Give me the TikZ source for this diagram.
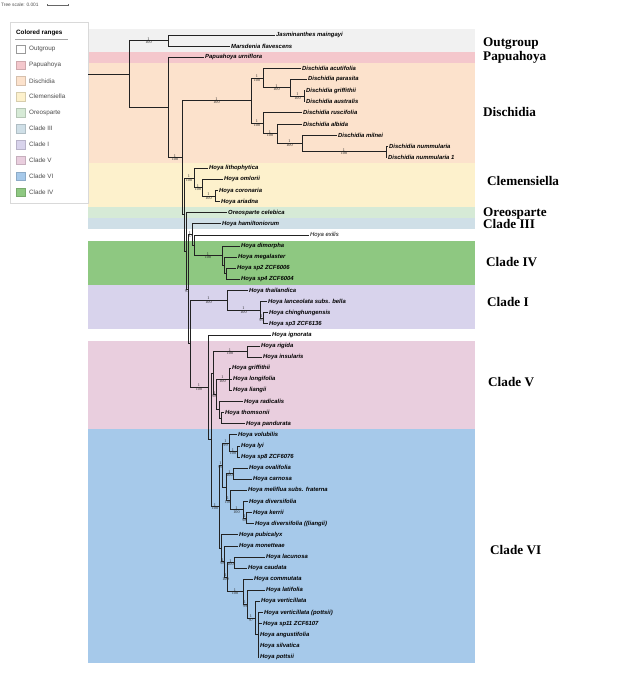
\documentclass[tikz,border=0pt]{standalone}
\usepackage{fontspec}
\setmainfont{Liberation Serif}
\newfontfamily\arialf{Liberation Sans}
\definecolor{cOut}{HTML}{F1F1F1}
\definecolor{cPap}{HTML}{F4C7CC}
\definecolor{cDis}{HTML}{FCE2CC}
\definecolor{cCle}{HTML}{FDF1CC}
\definecolor{cOre}{HTML}{D6EAD6}
\definecolor{cCiii}{HTML}{CFDFE7}
\definecolor{cCiv}{HTML}{8EC881}
\definecolor{cCi}{HTML}{D8D3EC}
\definecolor{cCv}{HTML}{E9CEDE}
\definecolor{cCvi}{HTML}{A6C9EA}
\definecolor{brc}{HTML}{222222}
\tikzset{
  br/.style={draw=brc, line width=0.8pt},
  leaf/.style={anchor=west, inner sep=1pt, font=\arialf\bfseries\itshape\fontsize{5.9}{6}\selectfont},
  leafplain/.style={anchor=west, inner sep=1pt, font=\arialf\itshape\fontsize{5.9}{6}\selectfont},
  bsl/.style={inner sep=0.2pt, font=\fontsize{4.2}{4.5}\selectfont, text=black!85},
  cladelab/.style={anchor=base west, inner sep=0pt, font=\bfseries\fontsize{13.2}{14}\selectfont},
  legtext/.style={anchor=west, inner sep=0pt, text=black!70, font=\arialf\fontsize{6.3}{7}\selectfont},
  swatch/.style={minimum size=8.5pt, inner sep=0pt, fill=#1, draw=#1!85!black, line width=0.3pt},
}
\newcommand\lf[4]{\coordinate (#1) at (#2,#3); \node[leaf] (#1t) at (#1) {#4};}
\newcommand\bsv[4]{\node[bsl,anchor=south] (#1u) at (#2,#3) {1}; \node[bsl,anchor=north] (#1d) at (#2,#3) {#4};}
\begin{document}
\begin{tikzpicture}[x=1pt,y=-1pt]
\fill[white] (0,0) rectangle (623,675);
\useasboundingbox (0,0) rectangle (623,675);
% colored ranges
\fill[cOut] (88,28.5) rectangle (475,51.7);
\fill[cPap] (88,51.7) rectangle (475,62.8);
\fill[cDis] (88,62.8) rectangle (475,162.8);
\fill[cCle] (88,162.8) rectangle (475,207.2);
\fill[cOre] (88,207.2) rectangle (475,218.3);
\fill[cCiii] (88,218.3) rectangle (475,229.4);
\fill[cCiv] (88,240.5) rectangle (475,284.9);
\fill[cCi] (88,284.9) rectangle (475,329.4);
\fill[cCv] (88,340.5) rectangle (475,429.3);
\fill[cCvi] (88,429.3) rectangle (475,662.5);
% tree scale
\node[anchor=west, inner sep=0pt, text=black!70, font=\arialf\fontsize{4.8}{5}\selectfont] (scl) at (1,5) {Tree scale: 0.001};
\coordinate (sa) at (47,5); \coordinate (sb) at (68,5);
\draw[black!60, line width=0.4pt] (sa) -- (sb);
\draw[black!60, line width=0.4pt] ([yshift=-1.2pt]sa) -- ([yshift=1.2pt]sa) ([yshift=-1.2pt]sb) -- ([yshift=1.2pt]sb);
% legend
\draw[black!15, line width=0.4pt] (10,22) rectangle (88,203);
\node[anchor=west, inner sep=0pt, font=\arialf\bfseries\fontsize{6.3}{7}\selectfont] (legh) at (16,33) {Colored ranges};
\draw[black!35, line width=0.4pt] (15,39.5) -- (68,39.5);
\foreach \c/\t [count=\k from 0] in {white/Outgroup, cPap/Papuahoya, cDis/Dischidia, cCle/Clemensiella, cOre/Oreosparte, cCiii/Clade III, cCi/Clade I, cCv/Clade V, cCvi/Clade VI, cCiv/Clade IV}{
  \node[swatch=\c] (sw\k) at (20.5,{49+\k*15.9}) {};
  \node[legtext] (lt\k) at (29,{49+\k*15.9}) {\t};
}
\draw[black!40, line width=0.3pt] (16.25,44.75) rectangle (24.75,53.25);
% clade labels
\node[cladelab] (kOut) at (483,46.8) {Outgroup};
\node[cladelab] (kPap) at (483,60.6) {Papuahoya};
\node[cladelab] (kDis) at (483,116) {Dischidia};
\node[cladelab] (kCle) at (487,185.7) {Clemensiella};
\node[cladelab] (kOre) at (483,216.2) {Oreosparte};
\node[cladelab] (kCiii) at (483,228.8) {Clade III};
\node[cladelab] (kCiv) at (486,266.7) {Clade IV};
\node[cladelab] (kCi) at (487,306.7) {Clade I};
\node[cladelab] (kCv) at (488,386.7) {Clade V};
\node[cladelab] (kCvi) at (490,554) {Clade VI};
% leaves
\lf{L1}{275}{35.0}{Jasminanthes maingayi}
\lf{L2}{230}{46.1}{Marsdenia flavescens}
\lf{L3}{204}{57.2}{Papuahoya urniflora}
\lf{L4}{301}{68.3}{Dischidia acutifolia}
\lf{L5}{307}{79.4}{Dischidia parasita}
\lf{L6}{305}{90.5}{Dischidia griffithii}
\lf{L7}{305}{101.6}{Dischidia australis}
\lf{L8}{302}{112.7}{Dischidia ruscifolia}
\lf{L9}{302}{123.9}{Dischidia albida}
\lf{L10}{337}{135.0}{Dischidia milnei}
\lf{L11}{388}{146.1}{Dischidia nummularia}
\lf{L12}{387}{157.2}{Dischidia nummularia 1}
\lf{L13}{208}{168.3}{Hoya lithophytica}
\lf{L14}{223}{179.4}{Hoya omlorii}
\lf{L15}{218}{190.5}{Hoya coronaria}
\lf{L16}{220}{201.6}{Hoya ariadna}
\lf{L17}{227}{212.7}{Oreosparte celebica}
\lf{L18}{221}{223.8}{Hoya hamiltoniorum}
\coordinate (L19) at (309,234.9); \node[leafplain] (L19t) at (L19) {Hoya exilis};
\lf{L20}{240}{246.0}{Hoya dimorpha}
\lf{L21}{237}{257.1}{Hoya megalaster}
\lf{L22}{236}{268.2}{Hoya sp2 ZCF6006}
\lf{L23}{240}{279.4}{Hoya sp4 ZCF6004}
\lf{L24}{248}{290.5}{Hoya thailandica}
\lf{L25}{267}{301.6}{Hoya lanceolata subs. bella}
\lf{L26}{268}{312.7}{Hoya chinghungensis}
\lf{L27}{268}{323.8}{Hoya sp3 ZCF6136}
\lf{L28}{271}{334.9}{Hoya ignorata}
\lf{L29}{260}{346.0}{Hoya rigida}
\lf{L30}{262}{357.1}{Hoya insularis}
\lf{L31}{231}{368.2}{Hoya griffithii}
\lf{L32}{232}{379.3}{Hoya longifolia}
\lf{L33}{232}{390.4}{Hoya liangii}
\lf{L34}{243}{401.5}{Hoya radicalis}
\lf{L35}{224}{412.6}{Hoya thomsonii}
\lf{L36}{245}{423.7}{Hoya pandurata}
\lf{L37}{237}{434.8}{Hoya volubilis}
\lf{L38}{240}{445.9}{Hoya lyi}
\lf{L39}{240}{457.0}{Hoya sp8 ZCF6076}
\lf{L40}{248}{468.2}{Hoya ovalifolia}
\lf{L41}{252}{479.3}{Hoya carnosa}
\lf{L42}{247}{490.4}{Hoya meliflua subs. fraterna}
\lf{L43}{248}{501.5}{Hoya diversifolia}
\lf{L44}{252}{512.6}{Hoya kerrii}
\lf{L45}{254}{523.7}{Hoya diversifolia ((liangii)}
\lf{L46}{238}{534.8}{Hoya pubicalyx}
\lf{L47}{238}{545.9}{Hoya monetteae}
\lf{L48}{265}{557.0}{Hoya lacunosa}
\lf{L49}{247}{568.1}{Hoya caudata}
\lf{L50}{253}{579.2}{Hoya commutata}
\lf{L51}{265}{590.3}{Hoya latifolia}
\lf{L52}{260}{601.4}{Hoya verticillata}
\lf{L53}{263}{612.5}{Hoya verticillata (pottsii)}
\lf{L54}{262}{623.6}{Hoya sp11 ZCF6107}
\lf{L55}{259}{634.7}{Hoya angustifolia}
\lf{L56}{259}{645.8}{Hoya silvatica}
\lf{L57}{259}{656.9}{Hoya pottsii}
% internal nodes
\coordinate (rootin) at (88,73.97);
\coordinate (root) at (129,73.97);
\coordinate (Out) at (168,40.55);
\coordinate (PDH) at (168,107.4);
\coordinate (DH) at (182,157.55);
\coordinate (D) at (251,100.6);
\coordinate (Da) at (263,78.0);
\coordinate (Dp) at (290,87.7);
\coordinate (Dg) at (304,96.05);
\coordinate (Dr) at (263,123.15);
\coordinate (Dal) at (277,133.6);
\coordinate (Dm) at (302,143.3);
\coordinate (Dn) at (386,151.65);
\coordinate (H) at (184,214.5);
\coordinate (C) at (194,178.0);
\coordinate (Co) at (202,187.7);
\coordinate (Cc) at (215,196.05);
\coordinate (Or) at (186,250.95);
\coordinate (R2) at (188,289.2);
\coordinate (A) at (192,234.55);
\coordinate (B) at (194,245.3);
\coordinate (I4) at (222,255.7);
\coordinate (I4m) at (224,265.45);
\coordinate (I4s) at (226,273.8);
\coordinate (C1) at (190,343.8);
\coordinate (I1) at (227,300.2);
\coordinate (I1l) at (260,309.9);
\coordinate (I1c) at (263,318.25);
\coordinate (Ig) at (208,387.35);
\coordinate (X) at (211,439.8);
\coordinate (V) at (213,373.05);
\coordinate (Vri) at (247,351.55);
\coordinate (Vg) at (216,394.55);
\coordinate (VG) at (229,379.3);
\coordinate (Vr) at (219,409.8);
\coordinate (Vtp) at (221,418.15);
\coordinate (W) at (219,506.6);
\coordinate (Wa) at (222,465.0);
\coordinate (Wv) at (229,443.1);
\coordinate (W1) at (237,451.45);
\coordinate (Wom) at (226,486.9);
\coordinate (Wo) at (233,473.75);
\coordinate (Wm) at (230,500.1);
\coordinate (Wd) at (243,509.8);
\coordinate (Wk) at (246,518.15);
\coordinate (Wp) at (221,548.15);
\coordinate (Wmo) at (224,561.5);
\coordinate (Wlcc) at (227,577.1);
\coordinate (Wlc) at (234,562.55);
\coordinate (Wc) at (243,591.7);
\coordinate (Wl) at (247,604.2);
\coordinate (Wvt) at (255,618.05);
\coordinate (Wvp) at (258,634.7);
% branches
\draw[br] (rootin) -- (root);
\foreach \p/\c in {root/Out, root/PDH, Out/L1, Out/L2, PDH/L3, PDH/DH, DH/D, DH/H,
  D/Da, D/Dr, Da/L4, Da/Dp, Dp/L5, Dp/Dg, Dg/L6, Dg/L7, Dr/L8, Dr/Dal, Dal/L9, Dal/Dm, Dm/L10, Dm/Dn, Dn/L11, Dn/L12,
  H/C, H/Or, C/L13, C/Co, Co/L14, Co/Cc, Cc/L15, Cc/L16, Or/L17, Or/R2, R2/A, R2/C1,
  A/L18, A/B, B/L19, B/I4, I4/L20, I4/I4m, I4m/L21, I4m/I4s, I4s/L22, I4s/L23,
  C1/I1, C1/Ig, I1/L24, I1/I1l, I1l/L25, I1l/I1c, I1c/L26, I1c/L27,
  Ig/L28, Ig/X, X/V, X/W, V/Vri, V/Vg, Vri/L29, Vri/L30, Vg/VG, Vg/Vr, VG/L31, VG/L32, VG/L33,
  Vr/L34, Vr/Vtp, Vtp/L35, Vtp/L36,
  W/Wa, W/Wp, Wa/Wv, Wa/Wom, Wv/L37, Wv/W1, W1/L38, W1/L39, Wom/Wo, Wom/Wm, Wo/L40, Wo/L41,
  Wm/L42, Wm/Wd, Wd/L43, Wd/Wk, Wk/L44, Wk/L45,
  Wp/L46, Wp/Wmo, Wmo/L47, Wmo/Wlcc, Wlcc/Wlc, Wlcc/Wc, Wlc/L48, Wlc/L49,
  Wc/L50, Wc/Wl, Wl/L51, Wl/Wvt, Wvt/L52, Wvt/Wvp, Wvp/L53, Wvp/L54, Wvp/L55, Wvp/L56, Wvp/L57}
  {\draw[br] (\p) |- (\c);}
% support values
\bsv{bOut}{148.5}{40.55}{100}
\bsv{bDH}{175}{157.55}{100}
\bsv{bD}{216.5}{100.6}{100}
\bsv{bDa}{257}{78.0}{100}
\bsv{bDp}{276.5}{87.7}{100}
\bsv{bDg}{297.5}{96.05}{100}
\bsv{bDr}{257}{123.15}{100}
\bsv{bDal}{270}{133.6}{100}
\bsv{bDm}{289.5}{143.3}{100}
\bsv{bDn}{344}{151.65}{100}
\bsv{bC}{189}{178.0}{100}
\bsv{bCo}{198}{187.7}{100}
\bsv{bCc}{208.5}{196.05}{100}
\bsv{bA}{190}{234.55}{97}
\bsv{bI4}{208}{255.7}{100}
\bsv{bI1}{208.5}{300.2}{100}
\bsv{bI1l}{243.5}{309.9}{100}
\bsv{bI1c}{261.5}{318.25}{99}
\bsv{bR2}{187}{289.2}{97}
\bsv{bIg}{199}{387.35}{100}
\bsv{bVri}{230}{351.55}{100}
\bsv{bVG}{222.5}{379.3}{100}
\bsv{bVg}{214.5}{394.55}{98}
\bsv{bWv}{225.5}{443.1}{99}
\bsv{bW1}{233}{451.45}{100}
\bsv{bWa}{220.5}{465.0}{96}
\bsv{bWo}{229.5}{473.75}{100}
\bsv{bWm}{228}{500.1}{100}
\bsv{bWd}{236.5}{509.8}{100}
\bsv{bWk}{244.5}{518.15}{98}
\bsv{bW}{215}{506.6}{100}
\bsv{bWmo}{222.5}{561.5}{98}
\bsv{bWlcc}{225.5}{577.1}{100}
\bsv{bWlc}{230.5}{562.55}{100}
\bsv{bWc}{235}{591.7}{100}
\bsv{bWl}{245}{604.2}{99}
\bsv{bWvt}{251}{618.05}{97}
\end{tikzpicture}
\end{document}
